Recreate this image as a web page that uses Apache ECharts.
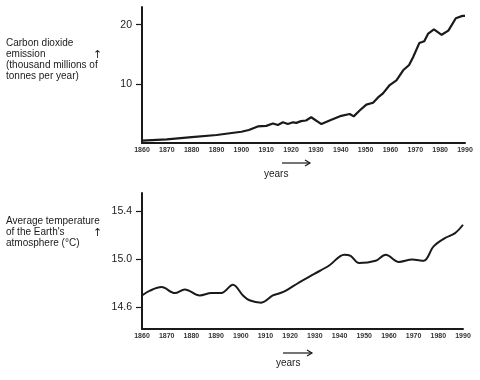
<!DOCTYPE html>
<html>
<head>
<meta charset="utf-8">
<script src="https://cdn.jsdelivr.net/npm/echarts@6/dist/echarts.min.js"></script>
<style>html,body{margin:0;padding:0;background:#fff}#c{width:480px;height:380px}</style>
</head>
<body>
<div id="c"></div>
<script>
const co2Years = [1860,1870,1880,1890,1900,1903,1906.6,1910,1912.7,1914.7,1916.7,1918.7,1920.8,1922.1,1924,1926,1928.1,1932.2,1935.5,1940.2,1943.6,1945.2,1947.6,1950.3,1953,1955,1957,1959.7,1962.4,1965.1,1967.5,1969.1,1971.6,1973.6,1975.2,1977.5,1980.6,1983.3,1986.3,1989,1990];
const co2Values = [0.4,0.6,1.0,1.35,1.9,2.2,2.8,2.9,3.3,3.05,3.5,3.2,3.5,3.4,3.7,3.8,4.35,3.2,3.8,4.6,4.9,4.5,5.5,6.5,6.8,7.7,8.4,9.8,10.6,12.3,13.2,14.5,16.9,17.2,18.5,19.2,18.3,19.0,21.1,21.5,21.5];
const tempYears = [1860,1863.2,1867.9,1873.3,1877.3,1883.4,1888.1,1892.1,1896.8,1900.9,1903.5,1908.3,1913,1916,1918.3,1923.7,1929.8,1935.8,1941.9,1944.5,1947.9,1954.6,1958.7,1964,1969.4,1974.1,1978.1,1982.8,1986.8,1990];
const tempValues = [14.70,14.74,14.77,14.72,14.75,14.70,14.72,14.72,14.79,14.70,14.66,14.64,14.70,14.72,14.74,14.81,14.88,14.95,15.04,15.03,14.97,14.99,15.04,14.98,15.00,14.99,15.11,15.18,15.22,15.29];
const yearTicks = [1860,1870,1880,1890,1900,1910,1920,1930,1940,1950,1960,1970,1980,1990];
const co2Ticks = [10,20];
const tempTicks = [14.6,15.0,15.4];

const font = 'Liberation Sans, Arial, sans-serif';
const ink = '#1a1a1a';
const chart = echarts.init(document.getElementById('c'), null, {renderer:'canvas'});

function xAxisDef(gi){
  return {
    type:'value', gridIndex:gi, min:1860, max:1990, interval:10,
    axisLine:{show:true, onZero:false, lineStyle:{color:ink,width:2}},
    axisTick:{show:false},
    splitLine:{show:false},
    axisLabel:{customValues:yearTicks, color:'#333', fontSize:7, fontWeight:'bold', fontFamily:font, margin:4,
      formatter:v=>String(Math.round(v))}
  };
}
function yAxisDef(gi,min,max,ticks,fmt){
  return {
    type:'value', gridIndex:gi, min:min, max:max,
    axisLine:{show:true, lineStyle:{color:ink,width:2}},
    axisTick:{show:true, customValues:ticks, length:6, lineStyle:{color:ink,width:1.2}},
    splitLine:{show:false},
    axisLabel:{customValues:ticks, color:ink, fontSize:10.5, fontFamily:font, margin:10, formatter:fmt}
  };
}

function arrow(x1,x2,y){
  return [
    {type:'line', shape:{x1:x1,y1:y,x2:x2,y2:y}, style:{stroke:ink,lineWidth:1.2}},
    {type:'polyline', shape:{points:[[x2-5,y-3],[x2,y],[x2-5,y+3]]}, style:{stroke:ink,lineWidth:1.2,fill:null}}
  ];
}
function label(x,y,text){
  return {type:'text', left:x, top:y, style:{text:text, font:'10px '+font, fill:ink, lineHeight:11}};
}
function up(x,y){
  return {type:'text', left:x, top:y, style:{text:'↑', font:'11px DejaVu Sans, sans-serif', fill:ink}};
}

chart.setOption({
  backgroundColor:'#fff',
  animation:false,
  grid:[
    {left:142, right:15, top:7, height:136},
    {left:142, right:17, top:193, height:136}
  ],
  xAxis:[xAxisDef(0), xAxisDef(1)],
  yAxis:[
    yAxisDef(0,0,23,co2Ticks,v=>String(Math.round(v))),
    yAxisDef(1,14.42,15.555,tempTicks,v=>v.toFixed(1))
  ],
  series:[
    {type:'line', xAxisIndex:0, yAxisIndex:0, data:co2Years.map((y,i)=>[y,co2Values[i]]),
     showSymbol:false, lineStyle:{color:ink,width:2.2}},
    {type:'line', xAxisIndex:1, yAxisIndex:1, data:tempYears.map((y,i)=>[y,tempValues[i]]),
     smooth:0.35, showSymbol:false, lineStyle:{color:ink,width:2}}
  ],
  graphic:[
    label(6,38,'Carbon dioxide\nemission\n(thousand millions of\ntonnes per year)'),
    up(93,50),
    label(6,216,'Average temperature\nof the Earth\'s\natmosphere (°C)'),
    up(93,228),
    ...arrow(282,310,163),
    {type:'text', left:264, top:169, style:{text:'years', font:'10px '+font, fill:ink}},
    ...arrow(283,312,353),
    {type:'text', left:276, top:358, style:{text:'years', font:'10px '+font, fill:ink}}
  ]
});
</script>
</body>
</html>
